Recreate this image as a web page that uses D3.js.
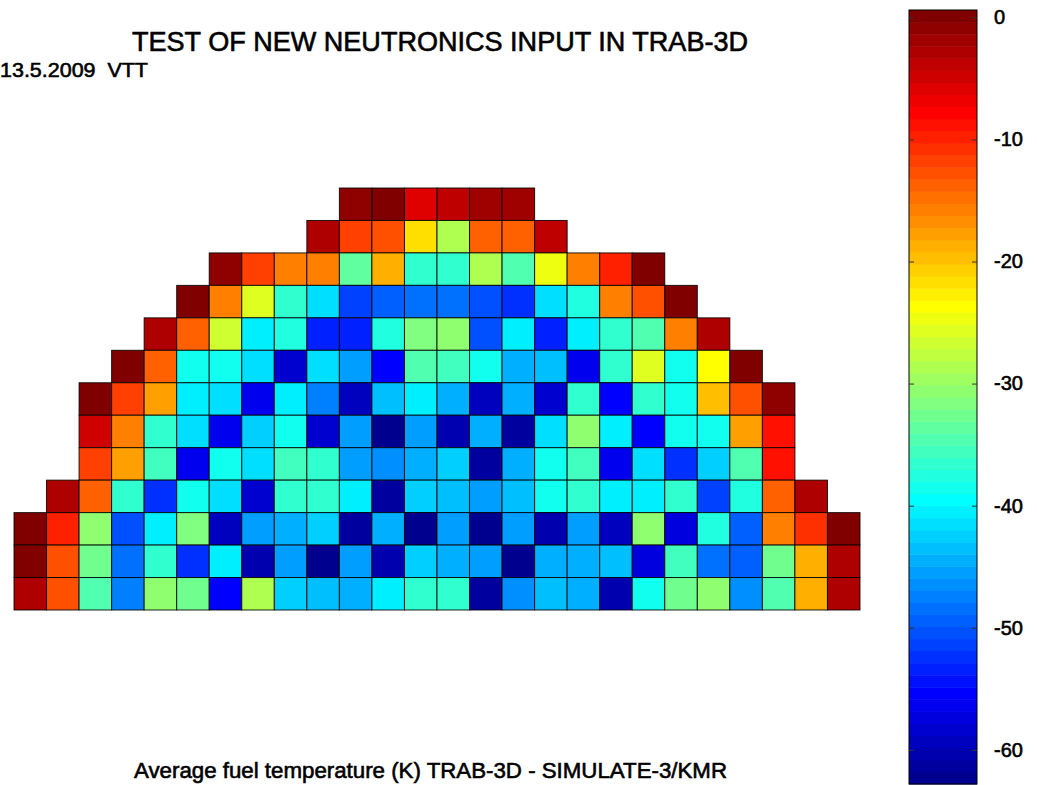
<!DOCTYPE html>
<html>
<head>
<meta charset="utf-8">
<script src="https://cdn.jsdelivr.net/npm/d3@7"></script>
<style>
    body { margin: 0; background: #fff; }
    svg { display: block; font-family: "Liberation Sans", Arial, sans-serif; }
    .label { fill: #000; stroke: #000; stroke-width: 0.6; }
    .cell { stroke: #000; stroke-width: 1; stroke-opacity: 0.85; }
</style>
</head>
<body>
<script>
//pseudo-global variables
var titleText = "TEST OF NEW NEUTRONICS INPUT IN TRAB-3D",
    dateText = "13.5.2009  VTT",
    xLabelText = "Average fuel temperature (K) TRAB-3D - SIMULATE-3/KMR";

//first column of each row (top row first)
var rowStarts = [10, 9, 6, 5, 4, 3, 2, 2, 2, 1, 0, 0, 0];

//cell values, row by row from the top
var row0 = [-1.2, -0.2, -6.2, -4.2, -1.8, -1.4];
var row1 = [-2.9, -11.6, -12.7, -21.3, -29.1, -13.7, -13.5, -4.3];
var row2 = [-1.2, -11.3, -15.3, -15.4, -33.7, -18.9, -36.1, -36.2, -28.6, -34.8, -25.1, -15.3, -9.4, -0.2];
var row3 = [0.6, -15.3, -26.0, -36.1, -41.1, -51.7, -49.6, -48.0, -48.0, -50.6, -52.8, -41.1, -38.0, -16.0, -13.2, 0.6];
var row4 = [-2.4, -14.2, -27.1, -40.1, -38.0, -53.8, -53.8, -38.0, -31.1, -30.2, -50.9, -40.1, -53.8, -40.1, -37.0, -34.8, -16.0, -2.4];
var row5 = [0.6, -14.2, -39.0, -39.0, -41.1, -58.0, -41.1, -45.4, -54.9, -34.1, -35.1, -39.0, -44.3, -43.3, -56.0, -37.0, -26.0, -39.0, -23.2, -0.2];
var row6 = [-0.2, -11.3, -17.4, -40.1, -41.1, -56.0, -40.1, -47.0, -59.1, -43.3, -40.1, -44.3, -59.1, -44.3, -58.0, -36.1, -54.9, -36.6, -39.0, -20.0, -13.2, -1.1];
var row7 = [-5.2, -15.9, -36.6, -41.1, -56.0, -42.2, -39.0, -58.0, -45.4, -62.3, -45.4, -60.2, -44.9, -61.2, -41.1, -30.2, -40.1, -54.9, -39.0, -39.0, -17.4, -8.4];
var row8 = [-11.3, -17.4, -35.6, -56.0, -39.0, -41.1, -35.6, -36.6, -45.4, -46.4, -44.3, -42.2, -61.2, -44.9, -39.0, -35.6, -56.0, -41.1, -52.8, -42.2, -34.8, -8.4];
var row9 = [-2.6, -14.2, -36.6, -52.8, -39.0, -41.1, -58.0, -36.6, -36.6, -40.1, -61.2, -42.2, -43.3, -45.4, -43.3, -39.0, -37.0, -40.1, -40.1, -37.0, -51.9, -38.0, -14.2, -2.4];
var row10 = [-0.2, -10.2, -30.7, -50.9, -40.1, -31.6, -59.1, -45.4, -44.3, -42.2, -61.2, -44.9, -62.3, -45.4, -62.8, -45.4, -60.2, -45.4, -59.1, -30.6, -57.0, -38.0, -49.9, -15.3, -10.5, -0.2];
var row11 = [0.6, -12.7, -32.6, -48.5, -37.0, -52.8, -40.1, -60.2, -45.4, -62.8, -45.4, -60.2, -42.2, -44.9, -45.4, -62.3, -44.3, -44.9, -43.8, -57.0, -35.6, -48.9, -49.6, -32.6, -18.3, -2.4];
var row12 = [-2.4, -12.7, -34.8, -47.5, -30.2, -32.6, -54.9, -28.2, -42.2, -43.8, -44.3, -40.1, -36.1, -37.0, -61.2, -46.4, -43.3, -44.3, -60.2, -39.0, -33.0, -30.2, -46.4, -34.1, -18.9, -2.4];

var rowValues = [row0, row1, row2, row3, row4, row5, row6, row7, row8, row9, row10, row11, row12];

//colour limits and colorbar ticks
var cLimits = [-62.8, 0.6];
var cbTicks = [0, -10, -20, -30, -40, -50, -60];

(function(){

    window.onload = setChart();

//build the whole figure
function setChart(){
    var width = 1037,
        height = 785;

    var svg = d3.select("body")
        .append("svg")
        .attr("width", width)
        .attr("height", height);

    var jet = makeJet(64);

    //flatten rows into cells
    var cells = [];
    rowValues.forEach(function(vals, r){
        vals.forEach(function(v, k){
            cells.push({row: r, col: rowStarts[r] + k, value: v});
        });
    });

    var x = d3.scaleBand()
        .domain(d3.range(26))
        .range([14, 860]);

    var y = d3.scaleBand()
        .domain(d3.range(rowValues.length))
        .range([188, 610]);

    //quantized jet colour, like matlab's colormap
    var colorIndex = d3.scaleQuantize()
        .domain(cLimits)
        .range(d3.range(64));

    svg.selectAll(".cell")
        .data(cells)
        .enter()
        .append("rect")
        .attr("class", "cell")
        .attr("x", function(d){ return x(d.col); })
        .attr("y", function(d){ return y(d.row); })
        .attr("width", x.bandwidth())
        .attr("height", y.bandwidth())
        .style("fill", function(d){ return jet[colorIndex(d.value)]; });

    setColorbar(svg, jet);

    //texts
    svg.append("text")
        .attr("class", "label")
        .attr("x", 132)
        .attr("y", 51)
        .attr("textLength", 616)
        .attr("lengthAdjust", "spacingAndGlyphs")
        .style("font-size", "27px")
        .text(titleText);

    svg.append("text")
        .attr("class", "label")
        .attr("x", 0)
        .attr("y", 77)
        .attr("textLength", 148)
        .attr("lengthAdjust", "spacingAndGlyphs")
        .style("font-size", "21px")
        .style("white-space", "pre")
        .text(dateText);

    svg.append("text")
        .attr("class", "label")
        .attr("x", 134)
        .attr("y", 778)
        .attr("textLength", 593)
        .attr("lengthAdjust", "spacingAndGlyphs")
        .style("font-size", "22px")
        .text(xLabelText);
};

//colorbar on the right
function setColorbar(svg, jet){
    var left = 909, right = 977;

    var yScale = d3.scaleLinear()
        .domain(cLimits)
        .range([784, 10]);

    var step = (cLimits[1] - cLimits[0]) / 64;

    svg.selectAll(".band")
        .data(d3.range(64))
        .enter()
        .append("rect")
        .attr("class", "band")
        .attr("x", left)
        .attr("width", right - left)
        .attr("y", function(i){ return yScale(cLimits[0] + (i + 1) * step); })
        .attr("height", function(i){ return yScale(cLimits[0] + i * step) - yScale(cLimits[0] + (i + 1) * step) + 0.5; })
        .style("fill", function(i){ return jet[i]; });

    svg.append("rect")
        .attr("x", left)
        .attr("y", 10)
        .attr("width", right - left)
        .attr("height", 774)
        .style("fill", "none")
        .style("stroke", "#000");

    //ticks on both edges
    var axisR = d3.axisRight(yScale)
        .tickValues(cbTicks)
        .tickSize(-5)
        .tickPadding(17)
        .tickFormat(d3.format("d"));

    var axisL = d3.axisLeft(yScale)
        .tickValues(cbTicks)
        .tickSize(-5)
        .tickFormat("");

    var gR = svg.append("g")
        .attr("transform", "translate(" + right + ",0)")
        .call(axisR);
    var gL = svg.append("g")
        .attr("transform", "translate(" + left + ",0)")
        .call(axisL);

    [gR, gL].forEach(function(g){
        g.select(".domain").remove();
        g.selectAll(".tick line").style("stroke", "#333");
    });

    gR.selectAll(".tick text")
        .attr("class", "label")
        .style("font-size", "20px")
        .style("font-family", "Liberation Sans, Arial, sans-serif")
        .text(function(d){ return d === 0 ? "0" : "-" + Math.abs(d); });
};

//matlab style jet(m)
function makeJet(m){
    var n = Math.ceil(m / 4),
        u = [], i;
    for (i = 1; i <= n; i++) u.push(i / n);
    for (i = 1; i < n; i++) u.push(1);
    for (i = n; i >= 1; i--) u.push(i / n);

    var g0 = Math.ceil(n / 2) - (m % 4 == 1 ? 1 : 0);
    var J = d3.range(m).map(function(){ return [0, 0, 0]; });

    u.forEach(function(val, k){
        var g = g0 + k + 1, r = g + n, b = g - n;
        if (r <= m) J[r - 1][0] = val;
        if (g <= m) J[g - 1][1] = val;
        if (b >= 1) J[b - 1][2] = val;
    });

    return J.map(function(c){
        return d3.rgb(c[0] * 255, c[1] * 255, c[2] * 255).formatHex();
    });
};

})();
</script>
</body>
</html>
